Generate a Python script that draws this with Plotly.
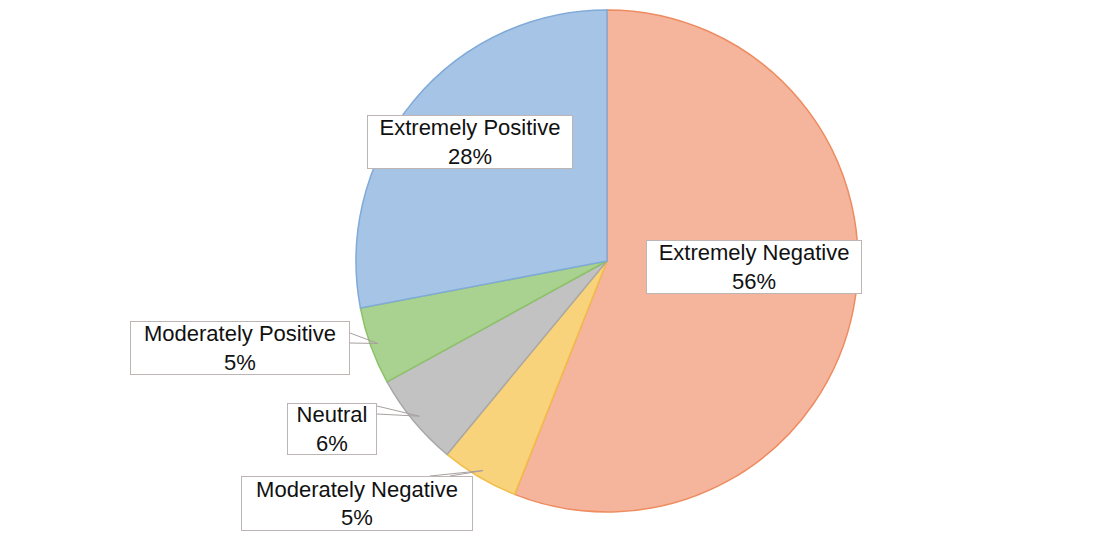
import math
import plotly.graph_objects as go

# Sentiment shares, clockwise from 12 o'clock
labels = ["Extremely Negative", "Moderately Negative", "Neutral",
          "Moderately Positive", "Extremely Positive"]
values = [56, 5, 6, 5, 28]

fill_colors = ["#F5B59C", "#F9D27C", "#C2C2C2", "#A9D18F", "#A6C5E6"]
edge_colors = ["#EE8C60", "#F2BE48", "#A8A8A8", "#8CC268", "#80AAD8"]

W, H = 1115, 537
CX, CY, R = 607, 261, 251  # pie centre and radius in pixels


def px(x):
    return x / W


def py(y):
    return 1 - y / H


fig = go.Figure(go.Pie(
    labels=labels,
    values=values,
    sort=False,
    direction="clockwise",
    rotation=0,
    textinfo="none",
    hoverinfo="label+percent",
    marker=dict(colors=fill_colors, line=dict(color=edge_colors, width=1.5)),
    domain=dict(x=[px(CX - R), px(CX + R)], y=[py(CY + R), py(CY - R)]),
    showlegend=False,
))

# Callout boxes: centre (px), width, height
boxes = {
    "Extremely Negative": (754, 267, 216, 54),
    "Moderately Negative": (357, 503, 232, 55),
    "Neutral": (332, 429, 90, 52),
    "Moderately Positive": (240, 348, 220, 54),
    "Extremely Positive": (470, 142, 206, 54),
}
# Where a callout pointer leaves its box (two base points, px)
pointer_base = {
    "Moderately Positive": [(350, 333), (350, 343)],
    "Neutral": [(377, 406), (377, 414)],
    "Moderately Negative": [(430, 476), (450, 476)],
}

total = sum(values)
shapes = []
annotations = []
cum = 0
for lab, val in zip(labels, values):
    pct = round(100 * val / total)
    mid = (cum + val / 2) / total * 2 * math.pi
    cum += val
    bx, by, bw, bh = boxes[lab]
    if lab in pointer_base:
        tip_r = R * 0.97
        tx = CX + tip_r * math.sin(mid)
        ty = CY - tip_r * math.cos(mid)
        (x1, y1), (x2, y2) = pointer_base[lab]
        path = (f"M {px(x1)},{py(y1)} L {px(tx)},{py(ty)} L {px(x2)},{py(y2)}")
        shapes.append(dict(type="path", path=path, xref="paper", yref="paper",
                           line=dict(color="#A8A0A0", width=1)))
    annotations.append(dict(
        x=px(bx), y=py(by), xref="paper", yref="paper",
        xanchor="center", yanchor="middle",
        text=f"{lab}<br>{pct}%", showarrow=False,
        width=bw - 2, height=bh - 2, borderpad=0,
        bgcolor="white", bordercolor="#BDB4B4", borderwidth=1,
        font=dict(family="Liberation Sans, Arial, sans-serif", size=22,
                  color="#111111"),
        align="center",
    ))

fig.update_layout(
    width=W, height=H,
    margin=dict(l=0, r=0, t=0, b=0),
    paper_bgcolor="white",
    plot_bgcolor="white",
    shapes=shapes,
    annotations=annotations,
)

fig.write_html("out.html")
